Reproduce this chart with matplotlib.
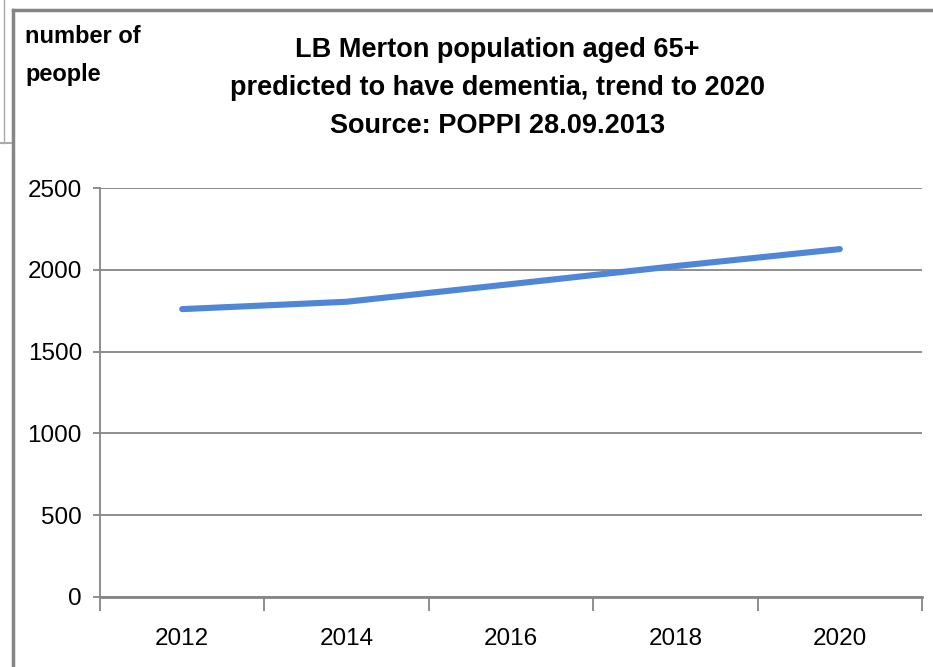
import matplotlib.pyplot as plt
from matplotlib.lines import Line2D


# dementia prevalence, people aged 65+ in Merton
years = ["2012", "2014", "2016", "2018", "2020"]
people = [1760, 1805, 1913, 2023, 2127]

y_ticks = [0, 500, 1000, 1500, 2000, 2500]

grey = "#868686"
tick_font = ["Liberation Sans", "DejaVu Sans"]
bold_font = ["Liberation Sans", "DejaVu Sans"]

fig = plt.figure(figsize=(9.33, 6.67), dpi=100)

ax = fig.add_axes([0.1072, 0.105, 0.8810, 0.613])

x = range(len(years))
ax.plot(x, people, color="#4F86D6", linewidth=4.4, solid_capstyle="round")

ax.set_xlim(-0.5, len(years) - 0.5)
ax.set_ylim(0, 2500)

# gridlines and axes in excel style
ax.set_yticks(y_ticks)
ax.set_yticklabels([str(v) for v in y_ticks], family=tick_font, fontsize=17.5)
ax.yaxis.grid(True, color=grey, linewidth=1.3)
ax.set_axisbelow(True)

ax.set_xticks([i - 0.5 for i in range(len(years) + 1)])
ax.set_xticklabels([])
ax.set_xticks(list(x), minor=True)
ax.set_xticklabels(years, minor=True, family=tick_font, fontsize=17.5)
ax.tick_params(axis="x", which="minor", length=0, pad=22)
ax.tick_params(axis="x", which="major", length=10, color=grey, width=1.3)
ax.tick_params(axis="y", length=5, color=grey, width=1.3, pad=8)

for side in ["top", "right"]:
    ax.spines[side].set_visible(False)
ax.spines["left"].set_color(grey)
ax.spines["bottom"].set_color(grey)
ax.spines["left"].set_linewidth(1.3)
ax.spines["bottom"].set_linewidth(2)

# titles
title_lines = [
    "LB Merton population aged 65+",
    "predicted to have dementia, trend to 2020",
    "Source: POPPI 28.09.2013",
]
for i, line in enumerate(title_lines):
    fig.text(0.533, 0.925 - 0.057 * i, line, ha="center", va="center",
             fontsize=19.5, fontweight="bold", family=bold_font)

fig.text(0.027, 0.945, "number of", ha="left", va="center",
         fontsize=17, fontweight="bold", family=bold_font)
fig.text(0.027, 0.888, "people", ha="left", va="center",
         fontsize=17, fontweight="bold", family=bold_font)

# chart frame lines
fig.add_artist(Line2D([0.0135, 0.0135], [0.0, 0.985], color=grey, linewidth=2.5))
fig.add_artist(Line2D([0.0135, 1.0], [0.985, 0.985], color=grey, linewidth=2.5))
fig.add_artist(Line2D([0.004, 0.004], [0.785, 1.0], color="#aaaaaa", linewidth=1))
fig.add_artist(Line2D([0.0, 0.012], [0.785, 0.785], color="#aaaaaa", linewidth=1.5))

fig.savefig("out.png", dpi=100)
